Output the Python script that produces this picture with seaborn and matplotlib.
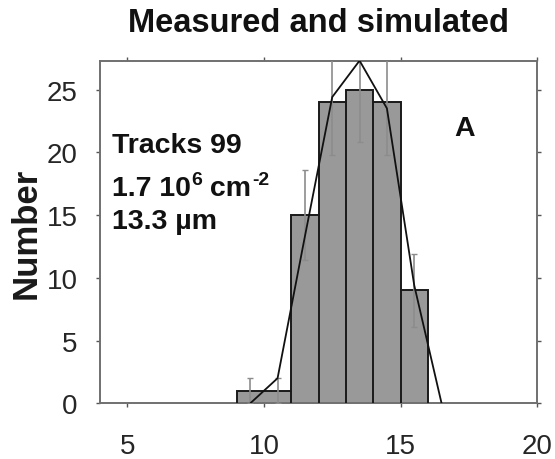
import numpy as np
import matplotlib
matplotlib.use("Agg")
import matplotlib.pyplot as plt
import seaborn as sns

# Track-length histogram: measured counts per 1 µm bin and the simulated distribution
bin_edges = [9, 10, 11, 12, 13, 14, 15, 16]
bin_centers = [9.5, 10.5, 11.5, 12.5, 13.5, 14.5, 15.5]
measured_counts = [1, 1, 15, 24, 25, 24, 9]
measured_err = [1, 1, 3.6, 4.2, 4.2, 4.2, 2.9]

sim_length = [9.5, 10.5, 11.5, 12.5, 13.5, 14.5, 15.5, 16.5]
sim_number = [0, 2.0, 13.3, 24.4, 27.3, 23.5, 9.4, 0]

x_ticks = [5, 10, 15, 20]
y_ticks = [0, 5, 10, 15, 20, 25]

sns.set_theme(style="white")
plt.rcParams["font.family"] = ["Liberation Sans", "DejaVu Sans"]

fig = plt.figure(figsize=(5.55, 4.6), dpi=100)
ax = fig.add_axes([0.180, 0.121, 0.788, 0.745])

fill_c = "#999999"
edge_c = "#1a1a1a"

# filled bars (no outlines), then outline + dividers between unequal neighbours
sns.histplot(x=bin_centers, weights=measured_counts, bins=bin_edges,
             color=fill_c, alpha=1, edgecolor="none", linewidth=0, ax=ax)
ax.stairs(measured_counts, bin_edges, baseline=0, fill=False,
          color=edge_c, linewidth=1.4, zorder=3)
for i in range(1, len(measured_counts)):
    a, b = measured_counts[i - 1], measured_counts[i]
    if a != b:
        ax.plot([bin_edges[i], bin_edges[i]], [0, min(a, b)],
                color=edge_c, linewidth=1.4, zorder=3)

ax.errorbar(bin_centers, measured_counts, yerr=measured_err, fmt="none",
            ecolor="#8c8c8c", elinewidth=1.2, capsize=2, capthick=1.0, zorder=4)

sns.lineplot(x=sim_length, y=sim_number, color="#111111", linewidth=1.3,
             ax=ax, zorder=5)

ax.set_xlim(4, 20)
ax.set_ylim(0, max(sim_number))
ax.set_xticks(x_ticks)
ax.set_yticks(y_ticks)
ax.tick_params(axis="both", which="both", direction="out", length=3,
               width=1.0, color="#555555", labelsize=20, labelcolor="#262626",
               bottom=True, left=True, top=True, right=True,
               labeltop=False, labelright=False)
ax.tick_params(axis="x", pad=18)
ax.tick_params(axis="y", pad=13)
for sp in ax.spines.values():
    sp.set_color("#707070")
    sp.set_linewidth(1.4)
    sp.set_visible(True)

ax.set_xlabel("")
ax.set_ylabel("Number", fontsize=25, fontweight="bold", color="#1a1a1a",
              labelpad=3)
ax.set_title("Measured and simulated", fontsize=23.5, fontweight="bold",
             color="#111111", pad=21)

# sample summary
fs = 20.5
txt_kw = dict(fontsize=fs, fontweight="bold", color="#111111")
ax.text(0.027, 0.733, "Tracks 99", transform=ax.transAxes,
        ha="left", va="baseline", **txt_kw)
t_dens = ax.text(0.027, 0.608, "1.7 10", transform=ax.transAxes,
                 ha="left", va="baseline", **txt_kw)
sup_kw = dict(fontsize=fs * 0.68, fontweight="bold", color="#111111",
              textcoords="offset points", ha="left", va="baseline")
t_six = ax.annotate("6", xy=(1, 0), xycoords=t_dens, xytext=(0.5, 0),
                    **sup_kw)
t_six.set_va("bottom")
t_six.xyann = (0.5, 0.47 * fs)
t_cm = ax.annotate(" cm", xy=(1, 0), xycoords=(t_six, t_dens),
                   xytext=(0, 0), textcoords="offset points",
                   ha="left", va="bottom", **txt_kw)
ax.annotate("-2", xy=(1, 0), xycoords=(t_cm, t_six), xytext=(0.5, 0),
            textcoords="offset points", ha="left", va="bottom",
            fontsize=fs * 0.68, fontweight="bold", color="#111111")
ax.text(0.027, 0.512, "13.3 µm", transform=ax.transAxes,
        ha="left", va="baseline", **txt_kw)

ax.text(0.81, 0.783, "A", transform=ax.transAxes, fontsize=20.5,
        fontweight="bold", color="#111111", ha="left", va="baseline")

fig.savefig("out.png", dpi=100)
